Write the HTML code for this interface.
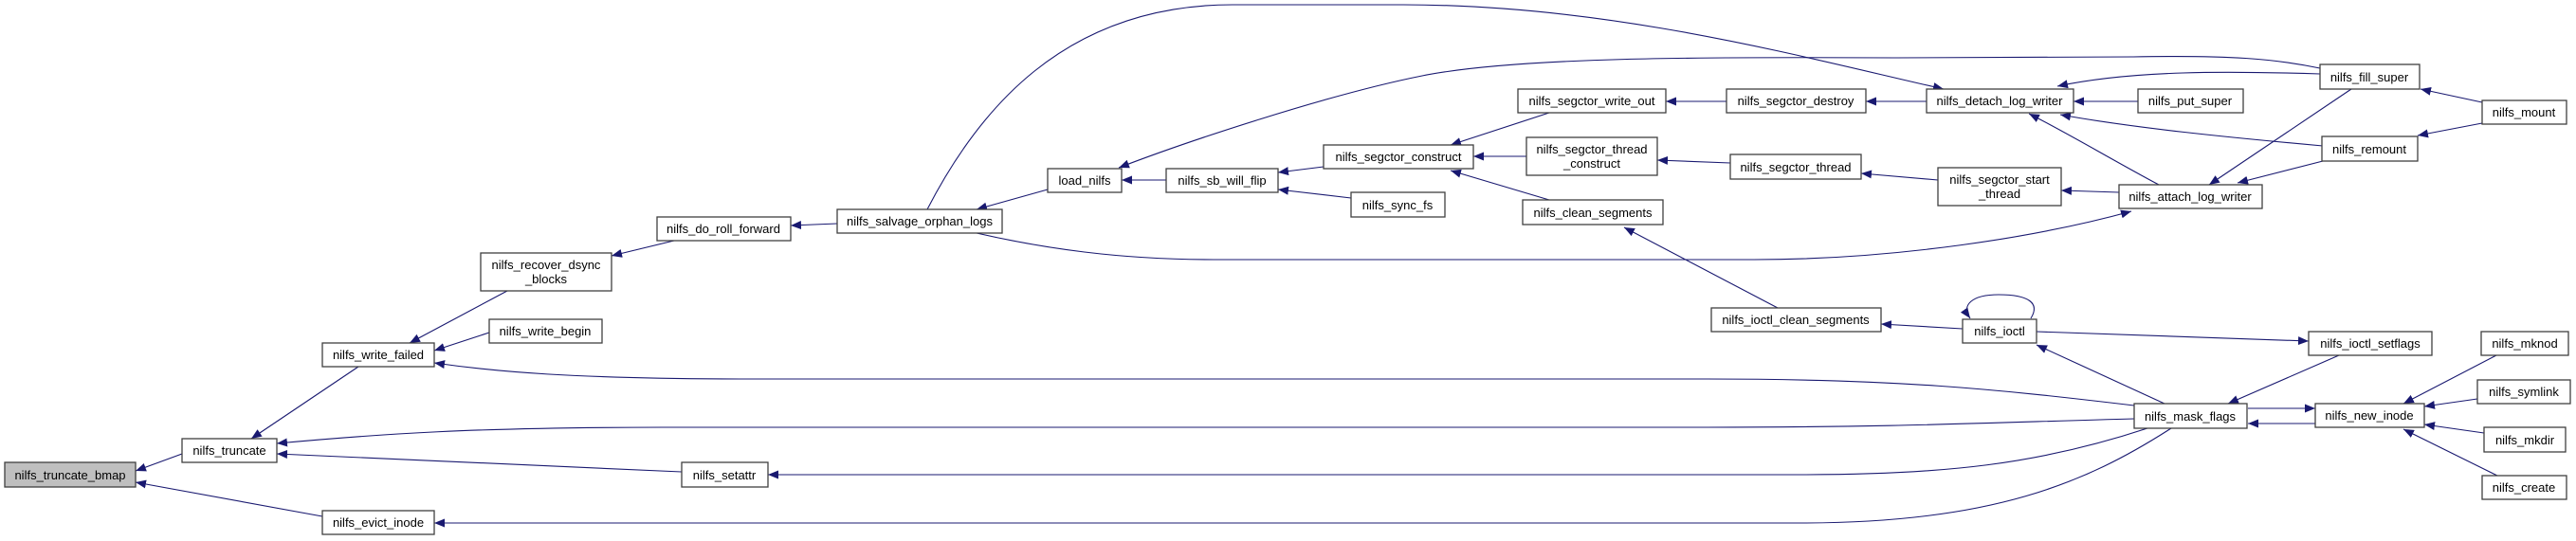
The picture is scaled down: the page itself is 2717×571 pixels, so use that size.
<!DOCTYPE html>
<html><head><meta charset="utf-8"><style>
html,body{margin:0;padding:0;background:#fff;}
svg{display:block;}
text{font-family:"Liberation Sans",Arial,sans-serif;font-size:13px;fill:#000;text-anchor:middle;}
.n{fill:#fff;stroke:#404040;stroke-width:1.3;}
.e{fill:none;stroke:#191970;stroke-width:1.1;marker-end:url(#a);}
</style></head><body>
<svg width="2717" height="571" viewBox="0 0 2717 571" xmlns="http://www.w3.org/2000/svg">
<defs><marker id="a" markerUnits="userSpaceOnUse" markerWidth="12" markerHeight="9" refX="11" refY="4.5" orient="auto"><path d="M0,0 L11,4.5 L0,9 z" fill="#191970"/></marker></defs>
<g>
<path class="e" d="M192,479 L143,497"/>
<path class="e" d="M340,545 L143,509"/>
<path class="e" d="M378,387 L265,463"/>
<path class="e" d="M2251,428 C2100,410 2000,400 1800,400 L800,400 C600,400 520,392 458,383"/>
<path class="e" d="M2251,442 C2100,446 2000,451 1800,451 L700,451 C500,451 400,458 292,468"/>
<path class="e" d="M719,498 L292,479"/>
<path class="e" d="M2265,452 C2150,490 2050,501 1900,501 L810,501"/>
<path class="e" d="M2290,452 C2200,510 2100,552 1900,552 L458,552"/>
<path class="e" d="M535,307 L432,362"/>
<path class="e" d="M516,351 L458,370"/>
<path class="e" d="M711,254 L645,270"/>
<path class="e" d="M883,236 L834,238"/>
<path class="e" d="M1105,200 L1030,221"/>
<path class="e" d="M978,221 C1030,120 1120,5 1300,5 L1480,5 C1700,5 1900,60 2050,94"/>
<path class="e" d="M1230,190 L1183,190"/>
<path class="e" d="M2447,72 C2400,62 2350,58 2250,60 L2000,61 C1800,60 1600,60 1500,80 C1400,100 1250,150 1180,177"/>
<path class="e" d="M1396,176 L1348,182"/>
<path class="e" d="M1425,209 L1348,200"/>
<path class="e" d="M1634,119 L1530,153"/>
<path class="e" d="M1610,165 L1554,165"/>
<path class="e" d="M1634,211 L1530,180"/>
<path class="e" d="M1821,107 L1757,107"/>
<path class="e" d="M1825,172 L1748,169"/>
<path class="e" d="M1875,325 L1713,240"/>
<path class="e" d="M2032,107 L1968,107"/>
<path class="e" d="M2044,190 L1963,183"/>
<path class="e" d="M1030,246 C1100,262 1180,274 1280,274 L1850,274 C2000,274 2150,250 2248,223"/>
<path class="e" d="M2255,107 L2187,107"/>
<path class="e" d="M2447,78 C2350,75 2250,74 2170,91"/>
<path class="e" d="M2450,154 C2350,145 2250,135 2173,121"/>
<path class="e" d="M2277,195 C2230,170 2180,140 2140,120"/>
<path class="e" d="M2235,203 L2174,201"/>
<path class="e" d="M2480,94 L2330,195"/>
<path class="e" d="M2450,170 L2360,193"/>
<path class="e" d="M2618,108 L2553,94"/>
<path class="e" d="M2618,130 L2550,143"/>
<path class="e" d="M2070,347 L1984,342"/>
<path class="e" d="M2142,336 C2152,320 2140,311 2108,311 C2080,311 2068,322 2078,336"/>
<path class="e" d="M2148,350 L2435,360"/>
<path class="e" d="M2283,426 L2148,364"/>
<path class="e" d="M2467,375 L2350,426"/>
<path class="e" d="M2371,431 L2442,431"/>
<path class="e" d="M2442,447 L2371,447"/>
<path class="e" d="M2633,375 L2535,426"/>
<path class="e" d="M2613,421 L2557,429"/>
<path class="e" d="M2620,457 L2557,448"/>
<path class="e" d="M2634,502 L2535,453"/>
</g>
<g>
<rect x="5" y="488" width="138" height="26" style="fill:#bfbfbf;stroke:#404040;stroke-width:1.3"/><text x="74" y="506">nilfs_truncate_bmap</text>
<rect class="n" x="192" y="463" width="100" height="25"/><text x="242" y="480">nilfs_truncate</text>
<rect class="n" x="340" y="362" width="118" height="25"/><text x="399" y="379">nilfs_write_failed</text>
<rect class="n" x="340" y="539" width="118" height="25"/><text x="399" y="556">nilfs_evict_inode</text>
<rect class="n" x="507" y="267" width="138" height="40"/><text x="576" y="284">nilfs_recover_dsync</text><text x="576" y="299">_blocks</text>
<rect class="n" x="516" y="337" width="119" height="25"/><text x="575" y="354">nilfs_write_begin</text>
<rect class="n" x="719" y="488" width="91" height="26"/><text x="764" y="506">nilfs_setattr</text>
<rect class="n" x="693" y="229" width="141" height="25"/><text x="763" y="246">nilfs_do_roll_forward</text>
<rect class="n" x="883" y="221" width="174" height="25"/><text x="970" y="238">nilfs_salvage_orphan_logs</text>
<rect class="n" x="1105" y="178" width="78" height="25"/><text x="1144" y="195">load_nilfs</text>
<rect class="n" x="1230" y="178" width="118" height="25"/><text x="1289" y="195">nilfs_sb_will_flip</text>
<rect class="n" x="1396" y="153" width="158" height="25"/><text x="1475" y="170">nilfs_segctor_construct</text>
<rect class="n" x="1425" y="203" width="99" height="26"/><text x="1474" y="221">nilfs_sync_fs</text>
<rect class="n" x="1601" y="94" width="156" height="25"/><text x="1679" y="111">nilfs_segctor_write_out</text>
<rect class="n" x="1610" y="145" width="138" height="40"/><text x="1679" y="162">nilfs_segctor_thread</text><text x="1679" y="177">_construct</text>
<rect class="n" x="1606" y="211" width="148" height="26"/><text x="1680" y="229">nilfs_clean_segments</text>
<rect class="n" x="1805" y="325" width="179" height="25"/><text x="1894" y="342">nilfs_ioctl_clean_segments</text>
<rect class="n" x="1821" y="94" width="147" height="25"/><text x="1894" y="111">nilfs_segctor_destroy</text>
<rect class="n" x="1825" y="163" width="138" height="26"/><text x="1894" y="181">nilfs_segctor_thread</text>
<rect class="n" x="2032" y="94" width="155" height="25"/><text x="2109" y="111">nilfs_detach_log_writer</text>
<rect class="n" x="2255" y="94" width="111" height="25"/><text x="2310" y="111">nilfs_put_super</text>
<rect class="n" x="2044" y="177" width="130" height="40"/><text x="2109" y="194">nilfs_segctor_start</text><text x="2109" y="209">_thread</text>
<rect class="n" x="2235" y="195" width="151" height="25"/><text x="2310" y="212">nilfs_attach_log_writer</text>
<rect class="n" x="2447" y="68" width="105" height="26"/><text x="2499" y="86">nilfs_fill_super</text>
<rect class="n" x="2449" y="144" width="101" height="26"/><text x="2499" y="162">nilfs_remount</text>
<rect class="n" x="2618" y="106" width="89" height="25"/><text x="2662" y="123">nilfs_mount</text>
<rect class="n" x="2070" y="337" width="78" height="25"/><text x="2109" y="354">nilfs_ioctl</text>
<rect class="n" x="2435" y="350" width="130" height="25"/><text x="2500" y="367">nilfs_ioctl_setflags</text>
<rect class="n" x="2251" y="426" width="119" height="26"/><text x="2310" y="444">nilfs_mask_flags</text>
<rect class="n" x="2442" y="426" width="115" height="25"/><text x="2499" y="443">nilfs_new_inode</text>
<rect class="n" x="2617" y="350" width="92" height="25"/><text x="2663" y="367">nilfs_mknod</text>
<rect class="n" x="2613" y="401" width="98" height="25"/><text x="2662" y="418">nilfs_symlink</text>
<rect class="n" x="2620" y="451" width="86" height="26"/><text x="2663" y="469">nilfs_mkdir</text>
<rect class="n" x="2618" y="502" width="89" height="25"/><text x="2662" y="519">nilfs_create</text>
</g>
</svg>
</body></html>
